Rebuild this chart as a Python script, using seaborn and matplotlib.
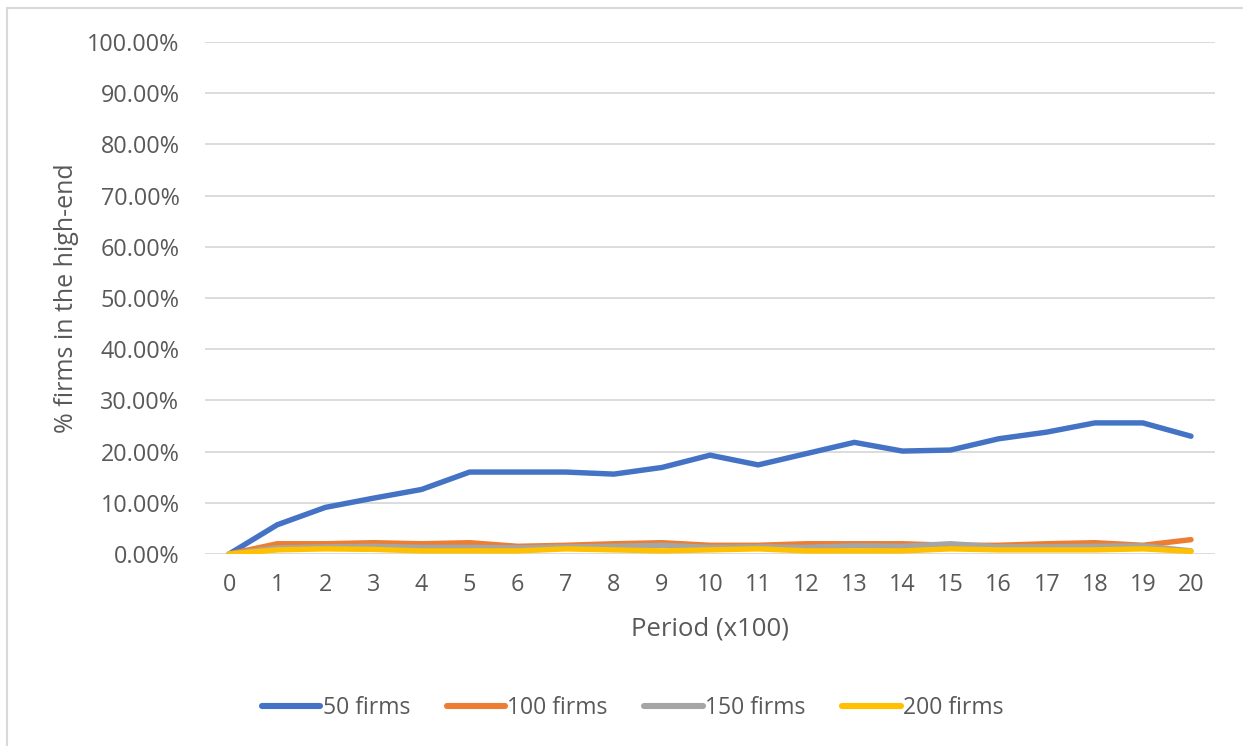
import matplotlib
matplotlib.use("Agg")
import matplotlib.pyplot as plt
import seaborn as sns
import pandas as pd
from matplotlib.patches import Rectangle
from matplotlib.ticker import PercentFormatter, MultipleLocator

periods = list(range(21))
firms_50 = [0.0, 5.7, 9.1, 10.9, 12.6, 16.0, 16.0, 16.0, 15.6, 16.9, 19.3, 17.4, 19.6, 21.8, 20.1, 20.3, 22.5, 23.8, 25.6, 25.6, 23.0]
firms_100 = [0.0, 2.0, 2.0, 2.2, 2.0, 2.2, 1.5, 1.7, 2.0, 2.2, 1.7, 1.7, 2.0, 2.0, 2.0, 1.7, 1.7, 2.0, 2.2, 1.7, 2.8]
firms_150 = [0.0, 1.2, 1.4, 1.5, 1.3, 1.3, 1.2, 1.4, 1.5, 1.7, 1.3, 1.4, 1.3, 1.6, 1.5, 2.0, 1.4, 1.4, 1.5, 1.6, 0.6]
firms_200 = [0.0, 0.8, 1.0, 0.9, 0.6, 0.6, 0.6, 1.0, 0.8, 0.6, 0.8, 1.0, 0.6, 0.6, 0.6, 1.0, 0.8, 0.8, 0.8, 1.0, 0.5]
series_names = ["50 firms", "100 firms", "150 firms", "200 firms"]
colors = ["#4472C4", "#ED7D31", "#A5A5A5", "#FFC000"]

frames = []
for name, vals in zip(series_names, [firms_50, firms_100, firms_150, firms_200]):
    frames.append(pd.DataFrame({"period": periods, "value": vals, "series": name}))
df = pd.concat(frames, ignore_index=True)

sns.set_theme(style="white")
plt.rcParams["font.family"] = ["Open Sans", "DejaVu Sans"]

fig = plt.figure(figsize=(12.43, 7.46), dpi=100)
ax = fig.add_axes([0.165, 0.2574, 0.8125, 0.6863])

sns.lineplot(data=df, x="period", y="value", hue="series", hue_order=series_names,
             palette=colors, linewidth=3.9, ax=ax, legend=False,
             solid_capstyle="round", solid_joinstyle="round")

ax.set_xlim(-0.5, 20.5)
ax.set_ylim(0, 100)
ax.yaxis.set_major_locator(MultipleLocator(10))
ax.yaxis.set_major_formatter(PercentFormatter(decimals=2))
ax.set_xticks(periods)
ax.set_xticklabels([str(p) for p in periods])
ax.grid(axis="y", color="#D9D9D9", linewidth=1.3)
ax.set_axisbelow(True)
for s in ax.spines.values():
    s.set_visible(False)
ax.tick_params(axis="both", length=0, labelsize=16.8, colors="#595959")
ax.tick_params(axis="y", pad=18.5)
ax.tick_params(axis="x", pad=14)
ax.set_xlabel("Period (x100)", fontsize=18.5, color="#595959", labelpad=14)
ax.set_ylabel("% firms in the high-end", fontsize=18, color="#595959", labelpad=6)

handles = [plt.Line2D([], [], color=c, linewidth=4.4, solid_capstyle="round") for c in colors]
fig.legend(handles, series_names, loc="center", bbox_to_anchor=(0.509, 0.051), ncol=4,
           frameon=False, fontsize=16.5, handlelength=2.55, handletextpad=0.1,
           columnspacing=1.6, labelcolor="#595959")

fig.patches.append(Rectangle((0.006, -0.05), 1.2, 1.039, transform=fig.transFigure,
                             fill=False, edgecolor="#D9D9D9", linewidth=1.5))

fig.savefig("out.png", dpi=100)
